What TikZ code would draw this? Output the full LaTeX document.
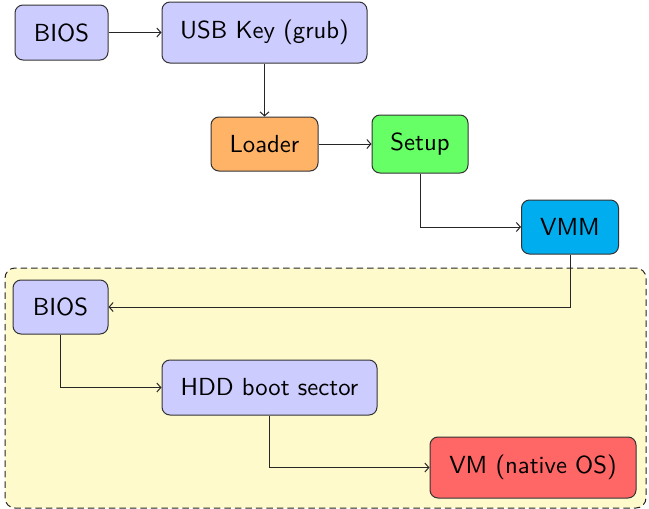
\documentclass[tikz,border=0pt]{standalone}
\usepackage{tikz}
\usepackage{graphicx}
\usetikzlibrary{arrows.meta}
\definecolor{bluebox}{RGB}{204,204,255}
\definecolor{orangebox}{RGB}{255,179,102}
\definecolor{greenbox}{RGB}{102,255,102}
\definecolor{cyanbox}{RGB}{0,174,239}
\definecolor{redbox}{RGB}{255,102,102}
\definecolor{bgyellow}{RGB}{255,250,204}
\newcommand{\bigtxt}[1]{\scalebox{2.47}{\sffamily\normalsize #1}}
\begin{document}
\begin{tikzpicture}[x=1pt,y=-1pt,
  box/.style={draw=black!80,line width=1pt,rounded corners=8pt,inner sep=0pt,text=black},
  conn/.style={-{Straight Barb[length=4pt,width=9pt]},line width=1pt,draw=black!85}]
\useasboundingbox (0,0) rectangle (649,509);
\node[draw=black!85,dash pattern=on 6.5pt off 4pt,line width=1pt,rounded corners=10pt,fill=bgyellow,
  minimum width=641pt,minimum height=240pt,inner sep=0pt] (bg) at (325.5,388) {};
\node[box,fill=bluebox,minimum width=93pt,minimum height=55pt] (bios1) at (61.5,32.5) {\bigtxt{BIOS}};
\node[box,fill=bluebox,minimum width=205pt,minimum height=61pt] (usb) at (264.5,32.5) {\bigtxt{USB Key (grub)}};
\node[box,fill=orangebox,minimum width=107pt,minimum height=54pt] (loader) at (264.5,144) {\bigtxt{Loader}};
\node[box,fill=greenbox,minimum width=96pt,minimum height=58pt] (setup) at (420,144) {\bigtxt{Setup}};
\node[box,fill=cyanbox,minimum width=97pt,minimum height=54pt] (vmm) at (570,227) {\bigtxt{VMM}};
\node[box,fill=bluebox,minimum width=95pt,minimum height=54pt] (bios2) at (60.5,307) {\bigtxt{BIOS}};
\node[box,fill=bluebox,minimum width=215pt,minimum height=55pt] (hdd) at (269.5,387.5) {\bigtxt{HDD boot sector}};
\node[box,fill=redbox,minimum width=206pt,minimum height=61pt] (vm) at (533,467.5) {\bigtxt{VM (native OS)}};
\draw[conn] (bios1) -- (usb);
\draw[conn] (usb) -- (loader);
\draw[conn] (loader) -- (setup);
\draw[conn] (setup.south) |- (vmm.west);
\draw[conn] (vmm.south) |- (bios2.east);
\draw[conn] (bios2.south) |- (hdd.west);
\draw[conn] (hdd.south) |- (vm.west);
\end{tikzpicture}
\end{document}
